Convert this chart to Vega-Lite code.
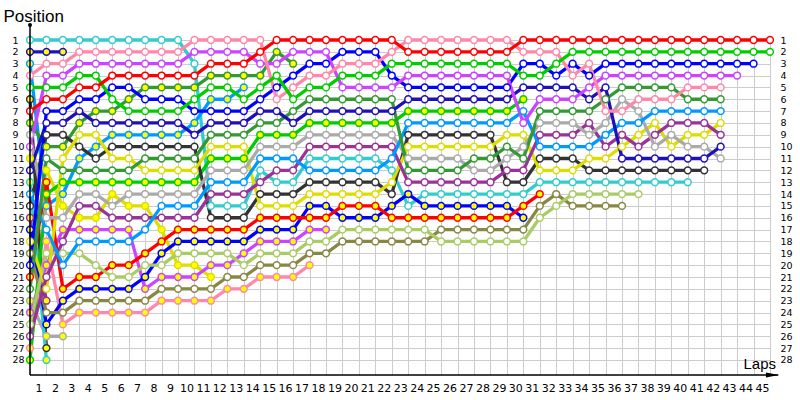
{
"$schema":"https://vega.github.io/schema/vega-lite/v6.json",
"width":740,"height":335,
"autosize":{"type":"none"},
"padding":{"left":30,"top":40,"right":30,"bottom":25},
"background":"white",
"config":{"view":{"stroke":null},"axis":{"labelFont":"DejaVu Sans","labelColor":"#000","titleFont":"Liberation Sans","titleColor":"#000","titleFontWeight":"normal","gridColor":"#cccccc","gridOpacity":1,"gridWidth":1,"domain":false,"ticks":false,"tickSize":0,"labelFlush":false,"labelOverlap":false,"labelBound":false}},
"datasets":{"laps":[
{"d":"cyan1","l":0,"p":1},{"d":"cyan1","l":1,"p":1},{"d":"cyan1","l":2,"p":1},{"d":"cyan1","l":3,"p":1},{"d":"cyan1","l":4,"p":1},{"d":"cyan1","l":5,"p":1},{"d":"cyan1","l":6,"p":1},{"d":"cyan1","l":7,"p":1},{"d":"cyan1","l":8,"p":1},{"d":"cyan1","l":9,"p":1},{"d":"cyan1","l":10,"p":3},{"d":"cyan1","l":11,"p":15},{"d":"cyan1","l":12,"p":15},{"d":"cyan1","l":13,"p":15},{"d":"cyan1","l":14,"p":12},{"d":"cyan1","l":15,"p":13},{"d":"cyan1","l":16,"p":13},{"d":"cyan1","l":17,"p":11},{"d":"cyan1","l":18,"p":11},{"d":"cyan1","l":19,"p":11},{"d":"cyan1","l":20,"p":11},{"d":"cyan1","l":21,"p":11},{"d":"cyan1","l":22,"p":12},{"d":"cyan1","l":23,"p":15},{"d":"cyan1","l":24,"p":14},{"d":"cyan1","l":25,"p":14},{"d":"cyan1","l":26,"p":14},{"d":"cyan1","l":27,"p":14},{"d":"cyan1","l":28,"p":14},{"d":"cyan1","l":29,"p":14},{"d":"cyan1","l":30,"p":14},{"d":"cyan1","l":31,"p":13},{"d":"cyan1","l":32,"p":13},{"d":"cyan1","l":33,"p":13},{"d":"cyan1","l":34,"p":13},{"d":"cyan1","l":35,"p":13},{"d":"cyan1","l":36,"p":13},{"d":"cyan1","l":37,"p":13},{"d":"cyan1","l":38,"p":13},{"d":"cyan1","l":39,"p":13},{"d":"cyan1","l":40,"p":13},
{"d":"navy2","l":0,"p":2},{"d":"navy2","l":1,"p":2},{"d":"navy2","l":2,"p":2},
{"d":"sky2","l":0,"p":3},{"d":"sky2","l":1,"p":15},{"d":"sky2","l":2,"p":14},{"d":"sky2","l":3,"p":11},{"d":"sky2","l":4,"p":10},{"d":"sky2","l":5,"p":9},{"d":"sky2","l":6,"p":9},{"d":"sky2","l":7,"p":9},{"d":"sky2","l":8,"p":9},{"d":"sky2","l":9,"p":9},{"d":"sky2","l":10,"p":8},{"d":"sky2","l":11,"p":6},{"d":"sky2","l":12,"p":6},{"d":"sky2","l":13,"p":5},
{"d":"gray2","l":0,"p":23},{"d":"gray2","l":1,"p":26},{"d":"gray2","l":2,"p":26},
{"d":"black2","l":0,"p":6},{"d":"black2","l":1,"p":27},
{"d":"purple2","l":0,"p":16},{"d":"purple2","l":1,"p":23},
{"d":"cyan2","l":0,"p":13},{"d":"cyan2","l":1,"p":28},
{"d":"yellow2","l":0,"p":11},{"d":"yellow2","l":1,"p":12},{"d":"yellow2","l":2,"p":15},{"d":"yellow2","l":3,"p":16},{"d":"yellow2","l":4,"p":16},{"d":"yellow2","l":5,"p":14},{"d":"yellow2","l":6,"p":15},{"d":"yellow2","l":7,"p":15},{"d":"yellow2","l":8,"p":17},{"d":"yellow2","l":9,"p":20},{"d":"yellow2","l":10,"p":20},{"d":"yellow2","l":11,"p":21},
{"d":"pink2","l":0,"p":27},{"d":"pink2","l":1,"p":18},{"d":"pink2","l":2,"p":25},{"d":"pink2","l":3,"p":24},{"d":"pink2","l":4,"p":24},{"d":"pink2","l":5,"p":24},{"d":"pink2","l":6,"p":24},{"d":"pink2","l":7,"p":24},{"d":"pink2","l":8,"p":23},{"d":"pink2","l":9,"p":23},{"d":"pink2","l":10,"p":23},{"d":"pink2","l":11,"p":23},{"d":"pink2","l":12,"p":22},{"d":"pink2","l":13,"p":22},{"d":"pink2","l":14,"p":21},{"d":"pink2","l":15,"p":21},{"d":"pink2","l":16,"p":21},{"d":"pink2","l":17,"p":20},
{"d":"violet2","l":0,"p":24},{"d":"violet2","l":1,"p":20},{"d":"violet2","l":2,"p":17},{"d":"violet2","l":3,"p":17},{"d":"violet2","l":4,"p":17},{"d":"violet2","l":5,"p":17},{"d":"violet2","l":6,"p":17},{"d":"violet2","l":7,"p":22},{"d":"violet2","l":8,"p":21},{"d":"violet2","l":9,"p":21},{"d":"violet2","l":10,"p":21},{"d":"violet2","l":11,"p":20},{"d":"violet2","l":12,"p":20},{"d":"violet2","l":13,"p":19},{"d":"violet2","l":14,"p":18},{"d":"violet2","l":15,"p":18},{"d":"violet2","l":16,"p":18},{"d":"violet2","l":17,"p":17},{"d":"violet2","l":18,"p":17},
{"d":"dkgreen2","l":0,"p":8},{"d":"dkgreen2","l":1,"p":10},{"d":"dkgreen2","l":2,"p":10},{"d":"dkgreen2","l":3,"p":8},{"d":"dkgreen2","l":4,"p":7},{"d":"dkgreen2","l":5,"p":7},{"d":"dkgreen2","l":6,"p":6},{"d":"dkgreen2","l":7,"p":5},{"d":"dkgreen2","l":8,"p":5},{"d":"dkgreen2","l":9,"p":5},{"d":"dkgreen2","l":10,"p":5},{"d":"dkgreen2","l":11,"p":4},{"d":"dkgreen2","l":12,"p":4},{"d":"dkgreen2","l":13,"p":4},{"d":"dkgreen2","l":14,"p":4},{"d":"dkgreen2","l":15,"p":2},{"d":"dkgreen2","l":16,"p":3},
{"d":"green2","l":0,"p":28},{"d":"green2","l":1,"p":14},{"d":"green2","l":2,"p":13},{"d":"green2","l":3,"p":13},{"d":"green2","l":4,"p":13},{"d":"green2","l":5,"p":13},{"d":"green2","l":6,"p":13},{"d":"green2","l":7,"p":13},{"d":"green2","l":8,"p":13},{"d":"green2","l":9,"p":13},{"d":"green2","l":10,"p":13},{"d":"green2","l":11,"p":11},{"d":"green2","l":12,"p":11},{"d":"green2","l":13,"p":11},{"d":"green2","l":14,"p":9},{"d":"green2","l":15,"p":9},{"d":"green2","l":16,"p":9},{"d":"green2","l":17,"p":8},{"d":"green2","l":18,"p":8},{"d":"green2","l":19,"p":8},{"d":"green2","l":20,"p":8},{"d":"green2","l":21,"p":8},{"d":"green2","l":22,"p":8},{"d":"green2","l":23,"p":7},{"d":"green2","l":24,"p":7},{"d":"green2","l":25,"p":7},{"d":"green2","l":26,"p":7},{"d":"green2","l":27,"p":7},{"d":"green2","l":28,"p":7},{"d":"green2","l":29,"p":7},{"d":"green2","l":30,"p":6},
{"d":"blue2","l":0,"p":17},{"d":"blue2","l":1,"p":25},{"d":"blue2","l":2,"p":23},{"d":"blue2","l":3,"p":22},{"d":"blue2","l":4,"p":22},{"d":"blue2","l":5,"p":22},{"d":"blue2","l":6,"p":22},{"d":"blue2","l":7,"p":21},{"d":"blue2","l":8,"p":19},{"d":"blue2","l":9,"p":18},{"d":"blue2","l":10,"p":18},{"d":"blue2","l":11,"p":18},{"d":"blue2","l":12,"p":18},{"d":"blue2","l":13,"p":18},{"d":"blue2","l":14,"p":17},{"d":"blue2","l":15,"p":17},{"d":"blue2","l":16,"p":17},{"d":"blue2","l":17,"p":15},{"d":"blue2","l":18,"p":15},{"d":"blue2","l":19,"p":16},{"d":"blue2","l":20,"p":16},{"d":"blue2","l":21,"p":16},{"d":"blue2","l":22,"p":15},{"d":"blue2","l":23,"p":14},{"d":"blue2","l":24,"p":15},{"d":"blue2","l":25,"p":15},{"d":"blue2","l":26,"p":15},{"d":"blue2","l":27,"p":15},{"d":"blue2","l":28,"p":15},{"d":"blue2","l":29,"p":15},{"d":"blue2","l":30,"p":16},
{"d":"red2","l":0,"p":21},{"d":"red2","l":1,"p":13},{"d":"red2","l":2,"p":22},{"d":"red2","l":3,"p":21},{"d":"red2","l":4,"p":21},{"d":"red2","l":5,"p":20},{"d":"red2","l":6,"p":20},{"d":"red2","l":7,"p":19},{"d":"red2","l":8,"p":18},{"d":"red2","l":9,"p":17},{"d":"red2","l":10,"p":17},{"d":"red2","l":11,"p":17},{"d":"red2","l":12,"p":17},{"d":"red2","l":13,"p":17},{"d":"red2","l":14,"p":16},{"d":"red2","l":15,"p":16},{"d":"red2","l":16,"p":16},{"d":"red2","l":17,"p":16},{"d":"red2","l":18,"p":16},{"d":"red2","l":19,"p":15},{"d":"red2","l":20,"p":15},{"d":"red2","l":21,"p":15},{"d":"red2","l":22,"p":16},{"d":"red2","l":23,"p":16},{"d":"red2","l":24,"p":16},{"d":"red2","l":25,"p":16},{"d":"red2","l":26,"p":16},{"d":"red2","l":27,"p":16},{"d":"red2","l":28,"p":16},{"d":"red2","l":29,"p":16},{"d":"red2","l":30,"p":15},{"d":"red2","l":31,"p":14},
{"d":"olive1","l":0,"p":19},{"d":"olive1","l":1,"p":24},{"d":"olive1","l":2,"p":24},{"d":"olive1","l":3,"p":23},{"d":"olive1","l":4,"p":23},{"d":"olive1","l":5,"p":23},{"d":"olive1","l":6,"p":23},{"d":"olive1","l":7,"p":23},{"d":"olive1","l":8,"p":22},{"d":"olive1","l":9,"p":22},{"d":"olive1","l":10,"p":22},{"d":"olive1","l":11,"p":22},{"d":"olive1","l":12,"p":21},{"d":"olive1","l":13,"p":21},{"d":"olive1","l":14,"p":20},{"d":"olive1","l":15,"p":20},{"d":"olive1","l":16,"p":20},{"d":"olive1","l":17,"p":19},{"d":"olive1","l":18,"p":19},{"d":"olive1","l":19,"p":18},{"d":"olive1","l":20,"p":18},{"d":"olive1","l":21,"p":18},{"d":"olive1","l":22,"p":18},{"d":"olive1","l":23,"p":18},{"d":"olive1","l":24,"p":18},{"d":"olive1","l":25,"p":17},{"d":"olive1","l":26,"p":17},{"d":"olive1","l":27,"p":17},{"d":"olive1","l":28,"p":17},{"d":"olive1","l":29,"p":17},{"d":"olive1","l":30,"p":17},{"d":"olive1","l":31,"p":15},{"d":"olive1","l":32,"p":14},{"d":"olive1","l":33,"p":15},{"d":"olive1","l":34,"p":15},{"d":"olive1","l":35,"p":15},{"d":"olive1","l":36,"p":15},
{"d":"lime1","l":0,"p":25},{"d":"lime1","l":1,"p":19},{"d":"lime1","l":2,"p":19},{"d":"lime1","l":3,"p":19},{"d":"lime1","l":4,"p":20},{"d":"lime1","l":5,"p":21},{"d":"lime1","l":6,"p":21},{"d":"lime1","l":7,"p":20},{"d":"lime1","l":8,"p":20},{"d":"lime1","l":9,"p":19},{"d":"lime1","l":10,"p":19},{"d":"lime1","l":11,"p":19},{"d":"lime1","l":12,"p":19},{"d":"lime1","l":13,"p":20},{"d":"lime1","l":14,"p":19},{"d":"lime1","l":15,"p":19},{"d":"lime1","l":16,"p":19},{"d":"lime1","l":17,"p":18},{"d":"lime1","l":18,"p":18},{"d":"lime1","l":19,"p":17},{"d":"lime1","l":20,"p":17},{"d":"lime1","l":21,"p":17},{"d":"lime1","l":22,"p":17},{"d":"lime1","l":23,"p":17},{"d":"lime1","l":24,"p":17},{"d":"lime1","l":25,"p":18},{"d":"lime1","l":26,"p":18},{"d":"lime1","l":27,"p":18},{"d":"lime1","l":28,"p":18},{"d":"lime1","l":29,"p":18},{"d":"lime1","l":30,"p":18},{"d":"lime1","l":31,"p":16},{"d":"lime1","l":32,"p":15},{"d":"lime1","l":33,"p":14},{"d":"lime1","l":34,"p":14},{"d":"lime1","l":35,"p":14},{"d":"lime1","l":36,"p":14},{"d":"lime1","l":37,"p":14},
{"d":"black1","l":0,"p":15},{"d":"black1","l":1,"p":9},{"d":"black1","l":2,"p":9},{"d":"black1","l":3,"p":10},{"d":"black1","l":4,"p":11},{"d":"black1","l":5,"p":10},{"d":"black1","l":6,"p":10},{"d":"black1","l":7,"p":10},{"d":"black1","l":8,"p":10},{"d":"black1","l":9,"p":10},{"d":"black1","l":10,"p":10},{"d":"black1","l":11,"p":16},{"d":"black1","l":12,"p":16},{"d":"black1","l":13,"p":16},{"d":"black1","l":14,"p":14},{"d":"black1","l":15,"p":14},{"d":"black1","l":16,"p":14},{"d":"black1","l":17,"p":13},{"d":"black1","l":18,"p":13},{"d":"black1","l":19,"p":13},{"d":"black1","l":20,"p":13},{"d":"black1","l":21,"p":13},{"d":"black1","l":22,"p":14},{"d":"black1","l":23,"p":9},{"d":"black1","l":24,"p":9},{"d":"black1","l":25,"p":9},{"d":"black1","l":26,"p":9},{"d":"black1","l":27,"p":9},{"d":"black1","l":28,"p":9},{"d":"black1","l":29,"p":13},{"d":"black1","l":30,"p":13},{"d":"black1","l":31,"p":11},{"d":"black1","l":32,"p":11},{"d":"black1","l":33,"p":11},{"d":"black1","l":34,"p":12},{"d":"black1","l":35,"p":12},{"d":"black1","l":36,"p":12},{"d":"black1","l":37,"p":12},{"d":"black1","l":38,"p":12},{"d":"black1","l":39,"p":12},{"d":"black1","l":40,"p":12},{"d":"black1","l":41,"p":12},
{"d":"yellow1","l":0,"p":18},{"d":"yellow1","l":1,"p":22},{"d":"yellow1","l":2,"p":11},{"d":"yellow1","l":3,"p":9},{"d":"yellow1","l":4,"p":9},{"d":"yellow1","l":5,"p":11},{"d":"yellow1","l":6,"p":11},{"d":"yellow1","l":7,"p":12},{"d":"yellow1","l":8,"p":12},{"d":"yellow1","l":9,"p":12},{"d":"yellow1","l":10,"p":12},{"d":"yellow1","l":11,"p":10},{"d":"yellow1","l":12,"p":10},{"d":"yellow1","l":13,"p":10},{"d":"yellow1","l":14,"p":15},{"d":"yellow1","l":15,"p":15},{"d":"yellow1","l":16,"p":15},{"d":"yellow1","l":17,"p":14},{"d":"yellow1","l":18,"p":14},{"d":"yellow1","l":19,"p":14},{"d":"yellow1","l":20,"p":14},{"d":"yellow1","l":21,"p":14},{"d":"yellow1","l":22,"p":13},{"d":"yellow1","l":23,"p":10},{"d":"yellow1","l":24,"p":10},{"d":"yellow1","l":25,"p":10},{"d":"yellow1","l":26,"p":10},{"d":"yellow1","l":27,"p":10},{"d":"yellow1","l":28,"p":10},{"d":"yellow1","l":29,"p":9},{"d":"yellow1","l":30,"p":9},{"d":"yellow1","l":31,"p":12},{"d":"yellow1","l":32,"p":12},{"d":"yellow1","l":33,"p":12},{"d":"yellow1","l":34,"p":11},{"d":"yellow1","l":35,"p":11},{"d":"yellow1","l":36,"p":10},{"d":"yellow1","l":37,"p":9},{"d":"yellow1","l":38,"p":8},{"d":"yellow1","l":39,"p":10},{"d":"yellow1","l":40,"p":9},{"d":"yellow1","l":41,"p":9},{"d":"yellow1","l":42,"p":8},
{"d":"purple1","l":0,"p":26},{"d":"purple1","l":1,"p":21},{"d":"purple1","l":2,"p":18},{"d":"purple1","l":3,"p":15},{"d":"purple1","l":4,"p":15},{"d":"purple1","l":5,"p":16},{"d":"purple1","l":6,"p":16},{"d":"purple1","l":7,"p":16},{"d":"purple1","l":8,"p":16},{"d":"purple1","l":9,"p":16},{"d":"purple1","l":10,"p":16},{"d":"purple1","l":11,"p":14},{"d":"purple1","l":12,"p":14},{"d":"purple1","l":13,"p":14},{"d":"purple1","l":14,"p":13},{"d":"purple1","l":15,"p":12},{"d":"purple1","l":16,"p":12},{"d":"purple1","l":17,"p":10},{"d":"purple1","l":18,"p":10},{"d":"purple1","l":19,"p":10},{"d":"purple1","l":20,"p":10},{"d":"purple1","l":21,"p":10},{"d":"purple1","l":22,"p":10},{"d":"purple1","l":23,"p":13},{"d":"purple1","l":24,"p":13},{"d":"purple1","l":25,"p":13},{"d":"purple1","l":26,"p":13},{"d":"purple1","l":27,"p":13},{"d":"purple1","l":28,"p":13},{"d":"purple1","l":29,"p":12},{"d":"purple1","l":30,"p":12},{"d":"purple1","l":31,"p":9},{"d":"purple1","l":32,"p":9},{"d":"purple1","l":33,"p":9},{"d":"purple1","l":34,"p":8},{"d":"purple1","l":35,"p":10},{"d":"purple1","l":36,"p":9},{"d":"purple1","l":37,"p":10},{"d":"purple1","l":38,"p":9},{"d":"purple1","l":39,"p":8},{"d":"purple1","l":40,"p":8},{"d":"purple1","l":41,"p":8},{"d":"purple1","l":42,"p":9},
{"d":"gray1","l":0,"p":9},{"d":"gray1","l":1,"p":16},{"d":"gray1","l":2,"p":16},{"d":"gray1","l":3,"p":14},{"d":"gray1","l":4,"p":14},{"d":"gray1","l":5,"p":15},{"d":"gray1","l":6,"p":14},{"d":"gray1","l":7,"p":14},{"d":"gray1","l":8,"p":14},{"d":"gray1","l":9,"p":14},{"d":"gray1","l":10,"p":14},{"d":"gray1","l":11,"p":12},{"d":"gray1","l":12,"p":12},{"d":"gray1","l":13,"p":12},{"d":"gray1","l":14,"p":10},{"d":"gray1","l":15,"p":10},{"d":"gray1","l":16,"p":10},{"d":"gray1","l":17,"p":9},{"d":"gray1","l":18,"p":9},{"d":"gray1","l":19,"p":9},{"d":"gray1","l":20,"p":9},{"d":"gray1","l":21,"p":9},{"d":"gray1","l":22,"p":9},{"d":"gray1","l":23,"p":11},{"d":"gray1","l":24,"p":11},{"d":"gray1","l":25,"p":11},{"d":"gray1","l":26,"p":11},{"d":"gray1","l":27,"p":12},{"d":"gray1","l":28,"p":12},{"d":"gray1","l":29,"p":11},{"d":"gray1","l":30,"p":10},{"d":"gray1","l":31,"p":8},{"d":"gray1","l":32,"p":8},{"d":"gray1","l":33,"p":8},{"d":"gray1","l":34,"p":9},{"d":"gray1","l":35,"p":8},{"d":"gray1","l":36,"p":6},{"d":"gray1","l":37,"p":7},{"d":"gray1","l":38,"p":10},{"d":"gray1","l":39,"p":9},{"d":"gray1","l":40,"p":10},{"d":"gray1","l":41,"p":10},{"d":"gray1","l":42,"p":11},
{"d":"sky1","l":0,"p":14},{"d":"sky1","l":1,"p":17},{"d":"sky1","l":2,"p":20},{"d":"sky1","l":3,"p":18},{"d":"sky1","l":4,"p":18},{"d":"sky1","l":5,"p":18},{"d":"sky1","l":6,"p":18},{"d":"sky1","l":7,"p":17},{"d":"sky1","l":8,"p":15},{"d":"sky1","l":9,"p":15},{"d":"sky1","l":10,"p":15},{"d":"sky1","l":11,"p":13},{"d":"sky1","l":12,"p":13},{"d":"sky1","l":13,"p":13},{"d":"sky1","l":14,"p":11},{"d":"sky1","l":15,"p":11},{"d":"sky1","l":16,"p":11},{"d":"sky1","l":17,"p":12},{"d":"sky1","l":18,"p":12},{"d":"sky1","l":19,"p":12},{"d":"sky1","l":20,"p":12},{"d":"sky1","l":21,"p":12},{"d":"sky1","l":22,"p":11},{"d":"sky1","l":23,"p":8},{"d":"sky1","l":24,"p":8},{"d":"sky1","l":25,"p":8},{"d":"sky1","l":26,"p":8},{"d":"sky1","l":27,"p":8},{"d":"sky1","l":28,"p":8},{"d":"sky1","l":29,"p":8},{"d":"sky1","l":30,"p":7},{"d":"sky1","l":31,"p":10},{"d":"sky1","l":32,"p":10},{"d":"sky1","l":33,"p":10},{"d":"sky1","l":34,"p":10},{"d":"sky1","l":35,"p":9},{"d":"sky1","l":36,"p":8},{"d":"sky1","l":37,"p":8},{"d":"sky1","l":38,"p":7},{"d":"sky1","l":39,"p":7},{"d":"sky1","l":40,"p":7},{"d":"sky1","l":41,"p":7},{"d":"sky1","l":42,"p":7},
{"d":"dkgreen1","l":0,"p":22},{"d":"dkgreen1","l":1,"p":11},{"d":"dkgreen1","l":2,"p":12},{"d":"dkgreen1","l":3,"p":12},{"d":"dkgreen1","l":4,"p":12},{"d":"dkgreen1","l":5,"p":12},{"d":"dkgreen1","l":6,"p":12},{"d":"dkgreen1","l":7,"p":11},{"d":"dkgreen1","l":8,"p":11},{"d":"dkgreen1","l":9,"p":11},{"d":"dkgreen1","l":10,"p":11},{"d":"dkgreen1","l":11,"p":9},{"d":"dkgreen1","l":12,"p":9},{"d":"dkgreen1","l":13,"p":9},{"d":"dkgreen1","l":14,"p":8},{"d":"dkgreen1","l":15,"p":8},{"d":"dkgreen1","l":16,"p":7},{"d":"dkgreen1","l":17,"p":6},{"d":"dkgreen1","l":18,"p":6},{"d":"dkgreen1","l":19,"p":6},{"d":"dkgreen1","l":20,"p":6},{"d":"dkgreen1","l":21,"p":6},{"d":"dkgreen1","l":22,"p":6},{"d":"dkgreen1","l":23,"p":12},{"d":"dkgreen1","l":24,"p":12},{"d":"dkgreen1","l":25,"p":12},{"d":"dkgreen1","l":26,"p":12},{"d":"dkgreen1","l":27,"p":11},{"d":"dkgreen1","l":28,"p":11},{"d":"dkgreen1","l":29,"p":10},{"d":"dkgreen1","l":30,"p":11},{"d":"dkgreen1","l":31,"p":7},{"d":"dkgreen1","l":32,"p":7},{"d":"dkgreen1","l":33,"p":7},{"d":"dkgreen1","l":34,"p":7},{"d":"dkgreen1","l":35,"p":6},{"d":"dkgreen1","l":36,"p":5},{"d":"dkgreen1","l":37,"p":5},{"d":"dkgreen1","l":38,"p":5},{"d":"dkgreen1","l":39,"p":5},{"d":"dkgreen1","l":40,"p":6},{"d":"dkgreen1","l":41,"p":6},{"d":"dkgreen1","l":42,"p":6},
{"d":"navy1","l":0,"p":12},{"d":"navy1","l":1,"p":8},{"d":"navy1","l":2,"p":8},{"d":"navy1","l":3,"p":7},{"d":"navy1","l":4,"p":8},{"d":"navy1","l":5,"p":8},{"d":"navy1","l":6,"p":8},{"d":"navy1","l":7,"p":8},{"d":"navy1","l":8,"p":8},{"d":"navy1","l":9,"p":8},{"d":"navy1","l":10,"p":9},{"d":"navy1","l":11,"p":8},{"d":"navy1","l":12,"p":8},{"d":"navy1","l":13,"p":8},{"d":"navy1","l":14,"p":7},{"d":"navy1","l":15,"p":7},{"d":"navy1","l":16,"p":8},{"d":"navy1","l":17,"p":7},{"d":"navy1","l":18,"p":7},{"d":"navy1","l":19,"p":7},{"d":"navy1","l":20,"p":7},{"d":"navy1","l":21,"p":7},{"d":"navy1","l":22,"p":7},{"d":"navy1","l":23,"p":6},{"d":"navy1","l":24,"p":6},{"d":"navy1","l":25,"p":6},{"d":"navy1","l":26,"p":6},{"d":"navy1","l":27,"p":6},{"d":"navy1","l":28,"p":6},{"d":"navy1","l":29,"p":6},{"d":"navy1","l":30,"p":5},{"d":"navy1","l":31,"p":5},{"d":"navy1","l":32,"p":5},{"d":"navy1","l":33,"p":5},{"d":"navy1","l":34,"p":6},{"d":"navy1","l":35,"p":5},{"d":"navy1","l":36,"p":11},{"d":"navy1","l":37,"p":11},{"d":"navy1","l":38,"p":11},{"d":"navy1","l":39,"p":11},{"d":"navy1","l":40,"p":11},{"d":"navy1","l":41,"p":11},{"d":"navy1","l":42,"p":10},
{"d":"blue1","l":0,"p":20},{"d":"blue1","l":1,"p":7},{"d":"blue1","l":2,"p":7},{"d":"blue1","l":3,"p":6},{"d":"blue1","l":4,"p":6},{"d":"blue1","l":5,"p":5},{"d":"blue1","l":6,"p":5},{"d":"blue1","l":7,"p":6},{"d":"blue1","l":8,"p":6},{"d":"blue1","l":9,"p":6},{"d":"blue1","l":10,"p":7},{"d":"blue1","l":11,"p":7},{"d":"blue1","l":12,"p":7},{"d":"blue1","l":13,"p":7},{"d":"blue1","l":14,"p":6},{"d":"blue1","l":15,"p":5},{"d":"blue1","l":16,"p":4},{"d":"blue1","l":17,"p":3},{"d":"blue1","l":18,"p":3},{"d":"blue1","l":19,"p":2},{"d":"blue1","l":20,"p":2},{"d":"blue1","l":21,"p":2},{"d":"blue1","l":22,"p":4},{"d":"blue1","l":23,"p":5},{"d":"blue1","l":24,"p":5},{"d":"blue1","l":25,"p":5},{"d":"blue1","l":26,"p":5},{"d":"blue1","l":27,"p":5},{"d":"blue1","l":28,"p":5},{"d":"blue1","l":29,"p":5},{"d":"blue1","l":30,"p":3},{"d":"blue1","l":31,"p":3},{"d":"blue1","l":32,"p":4},{"d":"blue1","l":33,"p":3},{"d":"blue1","l":34,"p":4},{"d":"blue1","l":35,"p":3},{"d":"blue1","l":36,"p":3},{"d":"blue1","l":37,"p":3},{"d":"blue1","l":38,"p":3},{"d":"blue1","l":39,"p":3},{"d":"blue1","l":40,"p":3},{"d":"blue1","l":41,"p":3},{"d":"blue1","l":42,"p":3},{"d":"blue1","l":43,"p":3},{"d":"blue1","l":44,"p":3},
{"d":"violet1","l":0,"p":10},{"d":"violet1","l":1,"p":4},{"d":"violet1","l":2,"p":4},{"d":"violet1","l":3,"p":3},{"d":"violet1","l":4,"p":3},{"d":"violet1","l":5,"p":3},{"d":"violet1","l":6,"p":3},{"d":"violet1","l":7,"p":3},{"d":"violet1","l":8,"p":3},{"d":"violet1","l":9,"p":3},{"d":"violet1","l":10,"p":2},{"d":"violet1","l":11,"p":2},{"d":"violet1","l":12,"p":2},{"d":"violet1","l":13,"p":2},{"d":"violet1","l":14,"p":3},{"d":"violet1","l":15,"p":3},{"d":"violet1","l":16,"p":2},{"d":"violet1","l":17,"p":2},{"d":"violet1","l":18,"p":2},{"d":"violet1","l":19,"p":5},{"d":"violet1","l":20,"p":5},{"d":"violet1","l":21,"p":5},{"d":"violet1","l":22,"p":5},{"d":"violet1","l":23,"p":4},{"d":"violet1","l":24,"p":4},{"d":"violet1","l":25,"p":4},{"d":"violet1","l":26,"p":4},{"d":"violet1","l":27,"p":4},{"d":"violet1","l":28,"p":4},{"d":"violet1","l":29,"p":4},{"d":"violet1","l":30,"p":8},{"d":"violet1","l":31,"p":6},{"d":"violet1","l":32,"p":6},{"d":"violet1","l":33,"p":6},{"d":"violet1","l":34,"p":5},{"d":"violet1","l":35,"p":4},{"d":"violet1","l":36,"p":4},{"d":"violet1","l":37,"p":4},{"d":"violet1","l":38,"p":4},{"d":"violet1","l":39,"p":4},{"d":"violet1","l":40,"p":4},{"d":"violet1","l":41,"p":4},{"d":"violet1","l":42,"p":4},{"d":"violet1","l":43,"p":4},
{"d":"pink1","l":0,"p":4},{"d":"pink1","l":1,"p":3},{"d":"pink1","l":2,"p":3},{"d":"pink1","l":3,"p":2},{"d":"pink1","l":4,"p":2},{"d":"pink1","l":5,"p":2},{"d":"pink1","l":6,"p":2},{"d":"pink1","l":7,"p":2},{"d":"pink1","l":8,"p":2},{"d":"pink1","l":9,"p":2},{"d":"pink1","l":10,"p":1},{"d":"pink1","l":11,"p":1},{"d":"pink1","l":12,"p":1},{"d":"pink1","l":13,"p":1},{"d":"pink1","l":14,"p":1},{"d":"pink1","l":15,"p":6},{"d":"pink1","l":16,"p":5},{"d":"pink1","l":17,"p":4},{"d":"pink1","l":18,"p":4},{"d":"pink1","l":19,"p":3},{"d":"pink1","l":20,"p":3},{"d":"pink1","l":21,"p":3},{"d":"pink1","l":22,"p":2},{"d":"pink1","l":23,"p":1},{"d":"pink1","l":24,"p":1},{"d":"pink1","l":25,"p":1},{"d":"pink1","l":26,"p":1},{"d":"pink1","l":27,"p":1},{"d":"pink1","l":28,"p":1},{"d":"pink1","l":29,"p":1},{"d":"pink1","l":30,"p":2},{"d":"pink1","l":31,"p":2},{"d":"pink1","l":32,"p":2},{"d":"pink1","l":33,"p":4},{"d":"pink1","l":34,"p":3},{"d":"pink1","l":35,"p":7},{"d":"pink1","l":36,"p":7},{"d":"pink1","l":37,"p":6},{"d":"pink1","l":38,"p":6},{"d":"pink1","l":39,"p":6},{"d":"pink1","l":40,"p":5},{"d":"pink1","l":41,"p":5},{"d":"pink1","l":42,"p":5},
{"d":"green1","l":0,"p":5},{"d":"green1","l":1,"p":5},{"d":"green1","l":2,"p":5},{"d":"green1","l":3,"p":4},{"d":"green1","l":4,"p":4},{"d":"green1","l":5,"p":6},{"d":"green1","l":6,"p":7},{"d":"green1","l":7,"p":7},{"d":"green1","l":8,"p":7},{"d":"green1","l":9,"p":7},{"d":"green1","l":10,"p":6},{"d":"green1","l":11,"p":5},{"d":"green1","l":12,"p":5},{"d":"green1","l":13,"p":6},{"d":"green1","l":14,"p":5},{"d":"green1","l":15,"p":4},{"d":"green1","l":16,"p":6},{"d":"green1","l":17,"p":5},{"d":"green1","l":18,"p":5},{"d":"green1","l":19,"p":4},{"d":"green1","l":20,"p":4},{"d":"green1","l":21,"p":4},{"d":"green1","l":22,"p":3},{"d":"green1","l":23,"p":3},{"d":"green1","l":24,"p":3},{"d":"green1","l":25,"p":3},{"d":"green1","l":26,"p":3},{"d":"green1","l":27,"p":3},{"d":"green1","l":28,"p":3},{"d":"green1","l":29,"p":3},{"d":"green1","l":30,"p":4},{"d":"green1","l":31,"p":4},{"d":"green1","l":32,"p":3},{"d":"green1","l":33,"p":2},{"d":"green1","l":34,"p":2},{"d":"green1","l":35,"p":2},{"d":"green1","l":36,"p":2},{"d":"green1","l":37,"p":2},{"d":"green1","l":38,"p":2},{"d":"green1","l":39,"p":2},{"d":"green1","l":40,"p":2},{"d":"green1","l":41,"p":2},{"d":"green1","l":42,"p":2},{"d":"green1","l":43,"p":2},{"d":"green1","l":44,"p":2},{"d":"green1","l":45,"p":2},
{"d":"red1","l":0,"p":7},{"d":"red1","l":1,"p":6},{"d":"red1","l":2,"p":6},{"d":"red1","l":3,"p":5},{"d":"red1","l":4,"p":5},{"d":"red1","l":5,"p":4},{"d":"red1","l":6,"p":4},{"d":"red1","l":7,"p":4},{"d":"red1","l":8,"p":4},{"d":"red1","l":9,"p":4},{"d":"red1","l":10,"p":4},{"d":"red1","l":11,"p":3},{"d":"red1","l":12,"p":3},{"d":"red1","l":13,"p":3},{"d":"red1","l":14,"p":2},{"d":"red1","l":15,"p":1},{"d":"red1","l":16,"p":1},{"d":"red1","l":17,"p":1},{"d":"red1","l":18,"p":1},{"d":"red1","l":19,"p":1},{"d":"red1","l":20,"p":1},{"d":"red1","l":21,"p":1},{"d":"red1","l":22,"p":1},{"d":"red1","l":23,"p":2},{"d":"red1","l":24,"p":2},{"d":"red1","l":25,"p":2},{"d":"red1","l":26,"p":2},{"d":"red1","l":27,"p":2},{"d":"red1","l":28,"p":2},{"d":"red1","l":29,"p":2},{"d":"red1","l":30,"p":1},{"d":"red1","l":31,"p":1},{"d":"red1","l":32,"p":1},{"d":"red1","l":33,"p":1},{"d":"red1","l":34,"p":1},{"d":"red1","l":35,"p":1},{"d":"red1","l":36,"p":1},{"d":"red1","l":37,"p":1},{"d":"red1","l":38,"p":1},{"d":"red1","l":39,"p":1},{"d":"red1","l":40,"p":1},{"d":"red1","l":41,"p":1},{"d":"red1","l":42,"p":1},{"d":"red1","l":43,"p":1},{"d":"red1","l":44,"p":1},{"d":"red1","l":45,"p":1}
]},
"encoding":{
 "x":{"type":"quantitative","scale":{"domain":[0,45],"nice":false,"zero":false},
  "axis":{"values":[0,1,2,3,4,5,6,7,8,9,10,11,12,13,14,15,16,17,18,19,20,21,22,23,24,25,26,27,28,29,30,31,32,33,34,35,36,37,38,39,40,41,42,43,44,45],"grid":true,"labelExpr":"datum.value == 0 ? '' : datum.label","labelOffset":-8,"labelPadding":7,"labelFontSize":11,"title":"Laps","titleX":713,"titleY":-7,"titleAlign":"left","titleBaseline":"alphabetic","titleFontSize":15,"titleAnchor":null}}
},
"layer":[
{"data":{"name":"laps"},
 "mark":{"type":"line","strokeWidth":3.3,"strokeJoin":"round","strokeCap":"round"},
 "encoding":{
  "x":{"field":"l","type":"quantitative"},
  "y":{"field":"p","type":"quantitative","scale":{"domain":[1,29.27],"reverse":true,"nice":false,"zero":false},
   "axis":{"orient":"left","values":[1,2,3,4,5,6,7,8,9,10,11,12,13,14,15,16,17,18,19,20,21,22,23,24,25,26,27,28],"grid":true,"labelAlign":"left","labelPadding":18,"labelFontSize":9.5,"title":"Position","titleAngle":0,"titleX":-27,"titleY":-19,"titleAlign":"left","titleBaseline":"alphabetic","titleFontSize":17,"titleAnchor":null}},
  "stroke":{"field":"d","type":"nominal","legend":null,
   "scale":{"domain":["cyan1","cyan2","navy1","navy2","sky1","sky2","pink1","pink2","red1","red2","violet1","violet2","blue1","blue2","green1","green2","dkgreen1","dkgreen2","gray1","gray2","yellow1","yellow2","black1","black2","olive1","lime1","purple1","purple2"],
    "range":["#33cccc","#33cccc","#1f10b8","#1f10b8","#0099ff","#0099ff","#ff88aa","#ff88aa","#ff0000","#ff0000","#cc44ff","#cc44ff","#0000ff","#0000ff","#00cc00","#00cc00","#339933","#339933","#aaaaaa","#aaaaaa","#dddd00","#dddd00","#333333","#333333","#888844","#aacc66","#993399","#993399"]}},
  "order":{"field":"l","type":"quantitative"}
 }},
{"data":{"name":"laps"},
 "mark":{"type":"circle","size":46,"strokeWidth":1.5,"opacity":1},
 "encoding":{
  "x":{"field":"l","type":"quantitative"},
  "y":{"field":"p","type":"quantitative","axis":{"orient":"right","values":[1,2,3,4,5,6,7,8,9,10,11,12,13,14,15,16,17,18,19,20,21,22,23,24,25,26,27,28],"grid":false,"labelPadding":10,"labelFontSize":9.5,"title":null}},
  "stroke":{"field":"d","type":"nominal","legend":null},
  "fill":{"field":"d","type":"nominal","legend":null,
   "scale":{"domain":["cyan1","cyan2","navy1","navy2","sky1","sky2","pink1","pink2","red1","red2","violet1","violet2","blue1","blue2","green1","green2","dkgreen1","dkgreen2","gray1","gray2","yellow1","yellow2","black1","black2","olive1","lime1","purple1","purple2"],
    "range":["#ffffff","#ffff00","#ffffff","#ffff00","#ffffff","#ffff00","#ffffff","#ffff00","#ffffff","#ffff00","#ffffff","#ffff00","#ffffff","#ffff00","#ffffff","#ffff00","#ffffff","#ffff00","#ffffff","#ffff00","#ffffff","#ffff00","#ffffff","#ffff00","#ffffff","#ffffff","#ffffff","#ffff00"]}}
 }},
{"data":{"values":[{}]},
 "mark":{"type":"rule","color":"#000","strokeWidth":1.5},
 "encoding":{"x":{"datum":0,"type":"quantitative"},"x2":{"datum":45.5},"y":{"datum":29.27,"type":"quantitative","axis":null}}},
{"data":{"values":[{}]},
 "mark":{"type":"rule","color":"#000","strokeWidth":1.5},
 "encoding":{"x":{"datum":0,"type":"quantitative"},"y":{"datum":-0.27,"type":"quantitative","axis":null},"y2":{"datum":29.27}}},
{"data":{"values":[{}]},
 "mark":{"type":"point","shape":"M-1,-0.4L1,0L-1,0.4Z","filled":true,"color":"#000","size":170,"opacity":1},
 "encoding":{"x":{"datum":45.15,"type":"quantitative"},"y":{"datum":29.27,"type":"quantitative","axis":null}}},
{"data":{"values":[{}]},
 "mark":{"type":"circle","color":"#000","size":16,"opacity":1},
 "encoding":{"x":{"datum":0,"type":"quantitative"},"y":{"datum":-0.27,"type":"quantitative","axis":null}}}
],
"resolve":{"axis":{"y":"independent"}}
}
